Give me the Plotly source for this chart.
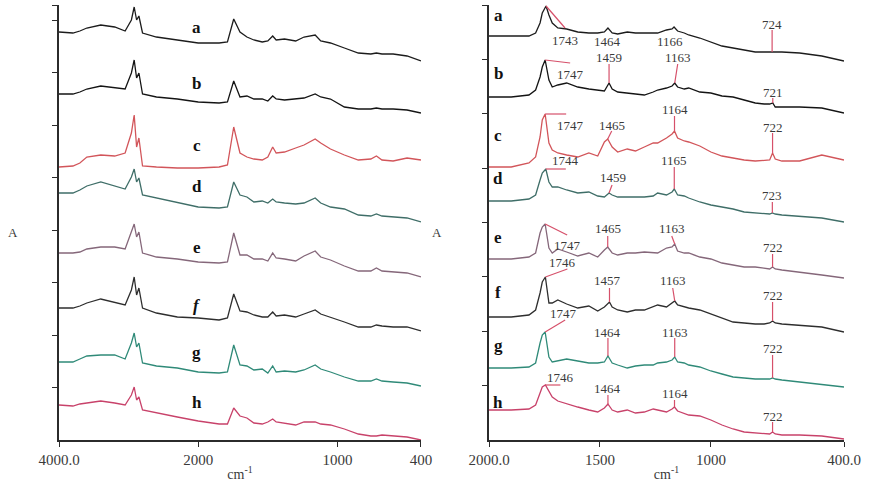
import plotly.graph_objects as go

# ---------------- full-range FTIR spectra, 4000-400 cm-1 (stacked, a.u.) ----------------
wn_full = [4000, 3800, 3700, 3600, 3400, 3200, 3050, 2960, 2920, 2885, 2852, 2800, 2600, 2300,
           2000, 1850, 1790, 1745, 1700, 1650, 1600, 1540, 1500, 1465, 1440, 1380, 1300, 1240,
           1160, 1120, 1050, 950, 850, 760, 720, 680, 600, 500, 400]

full_a = [408, 407, 409, 412, 415, 413, 409, 420, 433, 420, 424, 407, 403, 400, 397, 397, 398, 421, 408, 403,
          400, 398, 399, 404, 400, 401, 399, 403, 405, 399, 397, 392, 387, 386, 387, 386, 386, 384, 379]
full_b = [346, 346, 348, 351, 354, 352, 351, 367, 380, 362, 367, 346, 343, 341, 338, 337, 338, 359, 343, 344,
          341, 341, 339, 344, 341, 340, 341, 342, 346, 343, 341, 333, 331, 331, 332, 331, 331, 330, 327]
full_c = [273, 274, 277, 283, 285, 284, 287, 307, 325, 293, 302, 274, 273, 272, 272, 273, 275, 313, 287, 283,
          281, 280, 283, 293, 287, 288, 292, 295, 301, 297, 291, 285, 280, 281, 284, 280, 279, 282, 280]
full_d = [247, 247, 250, 254, 258, 254, 251, 263, 271, 258, 262, 245, 242, 237, 233, 232, 233, 258, 245, 243,
          238, 239, 237, 241, 238, 237, 236, 237, 242, 237, 233, 231, 225, 224, 226, 224, 223, 222, 218]
full_e = [187, 187, 188, 191, 193, 193, 191, 207, 216, 203, 208, 187, 183, 181, 178, 177, 178, 207, 185, 185,
          181, 181, 179, 187, 182, 181, 179, 184, 189, 183, 180, 174, 169, 169, 172, 169, 168, 167, 163]
full_f = [132, 132, 134, 137, 141, 138, 135, 150, 163, 145, 152, 132, 127, 123, 122, 120, 122, 146, 129, 128,
          125, 123, 123, 128, 124, 125, 123, 126, 130, 126, 123, 118, 113, 113, 115, 114, 113, 113, 109]
full_g = [78, 78, 81, 84, 85, 85, 81, 97, 107, 93, 97, 77, 74, 72, 68, 67, 68, 95, 75, 74,
          70, 71, 67, 74, 68, 69, 68, 70, 75, 71, 68, 63, 59, 59, 61, 59, 58, 57, 54]
full_h = [35, 34, 36, 37, 39, 37, 35, 45, 53, 40, 43, 30, 27, 23, 19, 16, 16, 32, 24, 22,
          17, 16, 18, 21, 18, 17, 15, 18, 18, 16, 15, 11, 6, 4, 4, 5, 4, 3, 0]

# ---------------- fingerprint region, 2000-400 cm-1 ----------------
wn_fp = [2000, 1900, 1820, 1790, 1770, 1760, 1730, 1715, 1690, 1650, 1600, 1550, 1510, 1480, 1445,
         1420, 1377, 1340, 1300, 1260, 1240, 1200, 1175, 1150, 1120, 1100, 1050, 1000, 950, 900,
         850, 800, 760, 735, 710, 680, 600, 500, 400]

fp_a = [404, 404, 404, 407, 417, 427, 425, 417, 412, 411, 408, 407, 407, 408, 407, 406, 408, 407, 407, 407,
        407, 410, 411, 409, 407, 405, 402, 398, 394, 392, 390, 388, 388, 388, 388, 388, 387, 384, 379]
fp_b = [343, 343, 345, 350, 363, 373, 360, 353, 355, 357, 353, 351, 350, 349, 351, 348, 347, 346, 345, 348,
        350, 352, 354, 353, 351, 352, 348, 347, 344, 343, 340, 337, 336, 336, 333, 333, 333, 332, 327]
fp_c = [273, 273, 277, 283, 303, 320, 297, 290, 287, 285, 283, 287, 284, 298, 293, 288, 291, 289, 293, 297,
        297, 302, 306, 302, 299, 298, 294, 288, 284, 282, 280, 279, 280, 280, 281, 279, 279, 285, 280]
fp_d = [239, 239, 241, 245, 260, 267, 258, 253, 253, 250, 247, 248, 244, 243, 245, 243, 243, 243, 243, 244,
        247, 245, 248, 245, 244, 242, 238, 235, 233, 231, 228, 227, 226, 226, 226, 225, 224, 222, 218]
fp_e = [181, 181, 183, 187, 207, 213, 192, 187, 191, 188, 184, 187, 183, 190, 187, 185, 187, 187, 188, 187,
        187, 192, 193, 189, 187, 187, 183, 181, 177, 175, 173, 173, 172, 171, 171, 170, 168, 165, 162]
fp_f = [123, 123, 125, 130, 147, 158, 137, 137, 140, 136, 132, 134, 129, 133, 133, 130, 128, 130, 130, 133,
        135, 133, 137, 135, 133, 132, 130, 126, 122, 118, 117, 116, 116, 117, 117, 116, 115, 113, 108]
fp_g = [72, 72, 73, 77, 97, 105, 83, 78, 79, 81, 79, 77, 77, 78, 77, 75, 72, 74, 75, 75,
        77, 78, 80, 78, 77, 75, 73, 69, 66, 63, 62, 61, 61, 61, 61, 60, 58, 56, 53]
fp_h = [30, 30, 31, 35, 47, 53, 48, 43, 39, 36, 33, 30, 28, 32, 30, 28, 30, 27, 28, 31,
        30, 28, 31, 29, 27, 25, 24, 20, 15, 11, 8, 7, 6, 6, 6, 5, 5, 4, 1]

# labelled band maxima (cm-1) and their absorbance in each fingerprint spectrum
peaks_a = [1743, 1464, 1166, 724]; peak_val_a = [434, 412, 413, 388]
peaks_b = [1747, 1459, 1163, 721]; peak_val_b = [380, 357, 357, 337]
peaks_c = [1747, 1465, 1164, 722]; peak_val_c = [326, 301, 309, 287]
peaks_d = [1744, 1459, 1165, 723]; peak_val_d = [271, 247, 251, 227]
peaks_e = [1747, 1465, 1163, 722]; peak_val_e = [216, 193, 196, 173]
peaks_f = [1746, 1457, 1163, 722]; peak_val_f = [163, 138, 139, 119]
peaks_g = [1747, 1464, 1163, 722]; peak_val_g = [108, 84, 83, 62]
peaks_h = [1746, 1464, 1164, 722]; peak_val_h = [55, 36, 33, 8]

sample_names = ["a", "b", "c", "d", "e", "f", "g", "h"]
full_sets = [full_a, full_b, full_c, full_d, full_e, full_f, full_g, full_h]
fp_sets = [fp_a, fp_b, fp_c, fp_d, fp_e, fp_f, fp_g, fp_h]
peak_sets = [(peaks_a, peak_val_a), (peaks_b, peak_val_b), (peaks_c, peak_val_c), (peaks_d, peak_val_d),
             (peaks_e, peak_val_e), (peaks_f, peak_val_f), (peaks_g, peak_val_g), (peaks_h, peak_val_h)]

colors = ["#1c1c1c", "#141414", "#d2555a", "#3f6e68", "#85677a", "#2e2e2e", "#2f8a78", "#c8426a"]
leader_color = "#d6506a"
text_color = "#3a3a3a"
SERIF = "Liberation Serif, Times New Roman, serif"


def split_scale(w):
    """FTIR abscissa with 2x compression above 2000 cm-1."""
    return (4000 - w) / 2 if w >= 2000 else 1000 + (2000 - w)


def merge(wn, vals, pk_wn, pk_vals):
    pts = sorted(list(zip(wn, vals)) + list(zip(pk_wn, pk_vals)), key=lambda p: -p[0])
    return [p[0] for p in pts], [p[1] for p in pts]


fig = go.Figure()

for name, ys, col in zip(sample_names, full_sets, colors):
    fig.add_trace(go.Scatter(x=[split_scale(w) for w in wn_full], y=ys, mode="lines",
                             line=dict(color=col, width=1.3), name=name, showlegend=False,
                             xaxis="x", yaxis="y"))

for name, ys, (pk, pv), col in zip(sample_names, fp_sets, peak_sets, colors):
    xw, yv = merge(wn_fp, ys, pk, pv)
    fig.add_trace(go.Scatter(x=xw, y=yv, mode="lines", line=dict(color=col, width=1.3),
                             name=name, showlegend=False, xaxis="x2", yaxis="y2"))

# sample letters
left_letter_y = [413, 357, 295, 254, 193, 135, 88, 38]
right_letter_y = [425, 367, 305, 262, 203, 148, 95, 38]
annotations = []
for name, ly, ry in zip(sample_names, left_letter_y, right_letter_y):
    left_txt = "<b><i>%s</i></b>" % name if name == "f" else "<b>%s</b>" % name
    annotations.append(dict(x=split_scale(2018), y=ly, xref="x", yref="y", text=left_txt,
                            showarrow=False, font=dict(family=SERIF, size=17, color="#111")))
    annotations.append(dict(x=1959, y=ry, xref="x2", yref="y2", text="<b>%s</b>" % name,
                            showarrow=False, font=dict(family=SERIF, size=17, color="#111")))

# band labels: (leader dx, leader dy, text dx, text dy) in pixels from the band maximum
label_offsets = [
    [(19, -22, 19, -34), None, None, (0, 22, 0, 28)],
    [(25, -3, 25, -14), (0, 19, 0, 26), (3, 19, 3, 26), (0, 5, 0, 11)],
    [(21, 0, 25, -11), (4, 8, 4, 14), (0, 15, 0, 22), (0, 20, 0, 26)],
    [(20, 0, 20, 9), (3, 8, 4, 16), (0, 22, 0, 29), (0, 11, 0, 18)],
    [(22, -11, 22, -21), (0, 11, 0, 19), (-3, 8, -3, 16), (0, 13, 0, 20)],
    [(22, 8, 17, 15), (0, 14, -2, 22), (-2, 13, -2, 21), (0, 19, 0, 26)],
    [(20, 12, 18, 19), (0, 18, 0, 24), (0, 19, 0, 25), (0, 23, 0, 30)],
    [(15, 0, 15, 8), (0, 9, 0, 16), (0, 7, 0, 14), (0, 10, 0, 16)],
]
text_only = {(0, 1): (0, -13), (0, 2): (-4, -14)}

shapes = []
for si, ((pk, pv), offs) in enumerate(zip(peak_sets, label_offsets)):
    for pi, (w, v) in enumerate(zip(pk, pv)):
        o = offs[pi]
        if o is None:
            tdx, tdy = text_only[(si, pi)]
        else:
            ldx, ldy, tdx, tdy = o
            shapes.append(dict(type="line", xref="x2", yref="y2", xsizemode="pixel", ysizemode="pixel",
                               xanchor=w, yanchor=v, x0=0, y0=0, x1=ldx, y1=ldy,
                               line=dict(color=leader_color, width=1.2)))
        annotations.append(dict(x=w, y=v, xref="x2", yref="y2", text=str(w), showarrow=False,
                                xshift=tdx, yshift=tdy,
                                font=dict(family=SERIF, size=13, color=text_color)))

# ordinate titles
for xp in (-0.0675, 0.4815):
    annotations.append(dict(x=xp, y=0.478, xref="paper", yref="paper", text="A", showarrow=False,
                            font=dict(family=SERIF, size=13, color=text_color)))

axis_common = dict(showline=True, linecolor="#2b2b2b", linewidth=1.6, showgrid=False, zeroline=False,
                   ticks="outside", ticklen=5, tickcolor="#2b2b2b", tickwidth=1.2)

left_ticks = [52.5 * k for k in range(1, 9)] + [435]
right_ticks = [54.375 * k for k in range(1, 9)]

fig.update_layout(
    width=872, height=490,
    margin=dict(l=59, r=28, t=5, b=50),
    paper_bgcolor="white", plot_bgcolor="white",
    xaxis=dict(domain=[0, 0.4611], range=[0, 2600], tickmode="array",
               tickvals=[split_scale(w) for w in [4000, 2000, 1000, 400]],
               ticktext=["4000.0", "2000", "1000", "400"],
               tickfont=dict(family=SERIF, size=15, color=text_color),
               title=dict(text="cm<sup>-1</sup>", standoff=2,
                          font=dict(family=SERIF, size=14, color=text_color)),
               anchor="y", **axis_common),
    yaxis=dict(domain=[0, 1], range=[0, 435], tickmode="array", tickvals=left_ticks,
               showticklabels=False, anchor="x", **axis_common),
    xaxis2=dict(domain=[0.5478, 1], range=[2000, 400], tickmode="array",
                tickvals=[2000, 1500, 1000, 400], ticktext=["2000.0", "1500", "1000", "400.0"],
                tickfont=dict(family=SERIF, size=15, color=text_color),
                title=dict(text="cm<sup>-1</sup>", standoff=2,
                           font=dict(family=SERIF, size=14, color=text_color)),
                anchor="y2", **axis_common),
    yaxis2=dict(domain=[0, 1], range=[0, 435], tickmode="array", tickvals=right_ticks,
                showticklabels=False, anchor="x2", **axis_common),
    annotations=annotations,
    shapes=shapes,
)

fig.write_html("out.html")
